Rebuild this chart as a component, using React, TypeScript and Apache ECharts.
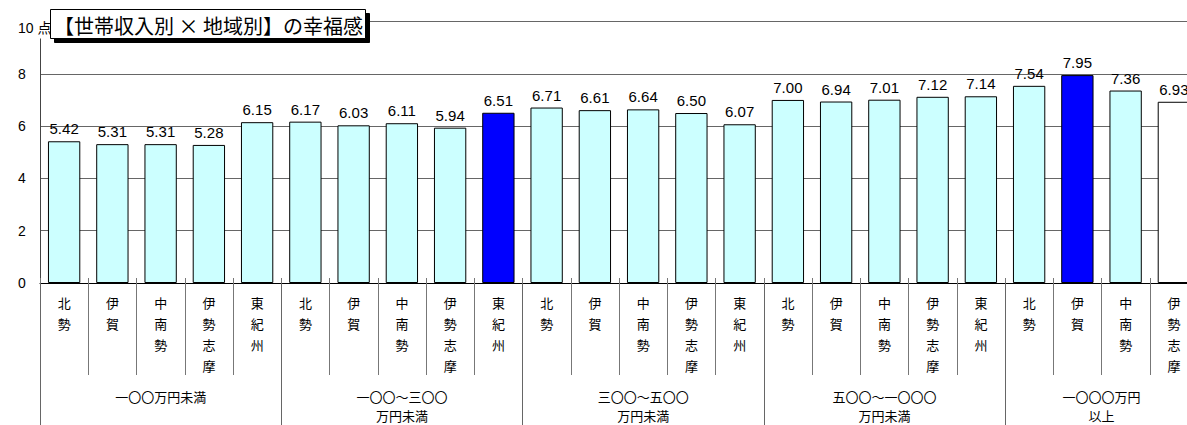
import React, { useEffect, useRef } from "react";
import * as echarts from "echarts";

const titleText = "【世帯収入別 × 地域別】の幸福感";
const regions = ["北勢", "伊賀", "中南勢", "伊勢志摩", "東紀州"];
const incomeGroups = [
  "一〇〇万円未満",
  "一〇〇～三〇〇\n万円未満",
  "三〇〇～五〇〇\n万円未満",
  "五〇〇～一〇〇〇\n万円未満",
  "一〇〇〇万円\n以上",
];
// number of visible regions in each income group
const groupSizes = [5, 5, 5, 5, 4];
const scores = [
  5.42, 5.31, 5.31, 5.28, 6.15,
  6.17, 6.03, 6.11, 5.94, 6.51,
  6.71, 6.61, 6.64, 6.5, 6.07,
  7.0, 6.94, 7.01, 7.12, 7.14,
  7.54, 7.95, 7.36, 6.93,
];
const highlightedBars = [9, 21];
const unfilledBars = [23];
const yTicks = [0, 2, 4, 6, 8, 10];
const yUnit = "点";

const LATIN = "'Liberation Sans', Arial, 'Noto Sans CJK JP', sans-serif";
const CJK = "'Noto Sans CJK JP', 'Liberation Sans', sans-serif";

export default function App() {
  const ref = useRef<HTMLDivElement>(null);

  useEffect(() => {
    if (!ref.current) return;
    const chart = echarts.init(ref.current, null, { renderer: "svg" });

    const categories: string[] = [];
    groupSizes.forEach((n) => {
      for (let i = 0; i < n; i++) categories.push(regions[i]);
    });

    // group axis in half-category steps
    const totalHalf = categories.length * 2;
    const groupAxisData: string[] = new Array(totalHalf + 1).fill("");
    const groupBoundaries: number[] = [];
    const groupLabelPos: number[] = [];
    let start = 0;
    groupSizes.forEach((n, gi) => {
      groupBoundaries.push(start * 2);
      const center = start * 2 + n;
      groupLabelPos.push(center);
      groupAxisData[center] = incomeGroups[gi];
      start += n;
    });
    groupBoundaries.push(totalHalf);

    const yMax = yTicks[yTicks.length - 1];

    chart.setOption({
      animation: false,
      title: {
        text: titleText,
        left: 50,
        top: 9,
        padding: [6, 3, 4, 4],
        backgroundColor: "#ffffff",
        borderColor: "#000000",
        borderWidth: 1,
        shadowColor: "#000000",
        shadowBlur: 0,
        shadowOffsetX: 4,
        shadowOffsetY: 4,
        textStyle: {
          fontFamily: CJK,
          fontSize: 20,
          fontWeight: "normal",
          color: "#000",
        },
        z: 10,
      },
      grid: { left: 40, right: 2, top: 21.5, bottom: 142, containLabel: false },
      xAxis: [
        {
          type: "category",
          data: categories,
          position: "bottom",
          offset: 0,
          axisLine: { show: true, lineStyle: { color: "#000", width: 1 } },
          axisTick: {
            show: true,
            interval: 0,
            length: 92,
            lineStyle: { color: "#777", width: 1 },
          },
          axisLabel: {
            interval: 0,
            margin: 8.5,
            fontFamily: CJK,
            fontSize: 13,
            lineHeight: 21,
            color: "#000",
            formatter: (v: string) => v.split("").join("\n"),
          },
          splitLine: { show: false },
        },
        {
          type: "category",
          data: groupAxisData,
          boundaryGap: false,
          position: "bottom",
          offset: 0,
          axisLine: { show: false },
          axisTick: {
            show: true,
            interval: (i: number) => groupBoundaries.includes(i),
            length: 160,
            lineStyle: { color: "#666", width: 1 },
          },
          axisLabel: {
            interval: (i: number) => groupLabelPos.includes(i),
            margin: 104,
            fontFamily: CJK,
            fontSize: 13,
            lineHeight: 19,
            color: "#000",
            align: "center",
          },
          splitLine: { show: false },
        },
        {
          type: "category",
          data: categories,
          position: "bottom",
          offset: 0,
          axisLine: { show: false },
          axisTick: {
            show: true,
            inside: true,
            interval: 0,
            length: 5,
            lineStyle: { color: "#777", width: 1 },
          },
          axisLabel: { show: false },
          splitLine: { show: false },
        },
      ],
      yAxis: {
        type: "value",
        min: 0,
        max: yMax,
        interval: 2,
        axisLine: { show: true, lineStyle: { color: "#444", width: 1 } },
        axisTick: { show: false },
        splitLine: { show: true, lineStyle: { color: "#666", width: 1 } },
        axisLabel: {
          align: "left",
          margin: 22,
          fontFamily: LATIN,
          fontSize: 14,
          color: "#000",
          formatter: (v: number) =>
            v === yMax ? `{top|${v} ${yUnit}}` : `${v}`,
          rich: {
            top: {
              fontFamily: LATIN,
              fontSize: 14,
              color: "#000",
              backgroundColor: "#ffffff",
              padding: [16, 3, 4, 0],
            },
          },
        },
      },
      series: [
        {
          type: "bar",
          xAxisIndex: 0,
          data: scores,
          barCategoryGap: "33%",
          itemStyle: {
            borderColor: "#000",
            borderWidth: 1,
            color: (p: any) =>
              highlightedBars.includes(p.dataIndex)
                ? "#0000ff"
                : unfilledBars.includes(p.dataIndex)
                ? "#ffffff"
                : "#ccffff",
          },
          label: {
            show: true,
            position: "top",
            distance: 5,
            fontFamily: LATIN,
            fontSize: 15,
            fontWeight: "normal",
            color: "#000",
            formatter: (p: any) => Number(p.value).toFixed(2),
          },
        },
      ],
    });

    return () => chart.dispose();
  }, []);

  return (
    <div
      style={{
        position: "fixed",
        left: 0,
        top: 0,
        width: 1187,
        height: 425,
        overflow: "hidden",
        background: "#fff",
      }}
    >
      <div ref={ref} style={{ width: 1200, height: 425 }} />
    </div>
  );
}
